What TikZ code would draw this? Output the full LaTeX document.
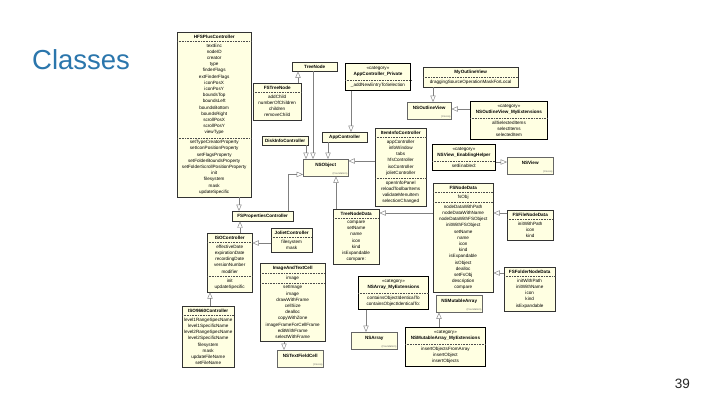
\documentclass[tikz,border=0pt]{standalone}
\usepackage{fontspec}
\setmainfont{Liberation Sans}
\usepackage{tikz}
\usetikzlibrary{arrows,positioning,shapes,calc}
\definecolor{classfill}{HTML}{FFFFE2}
\definecolor{heading}{HTML}{2B76AC}
\definecolor{wire}{HTML}{808080}
\tikzset{
    %Define standard arrow tip
    >={open triangle 45},
    %Define style for class boxes
    umlclass/.style={
	rectangle split,
	rectangle split parts=3,
	rectangle split draw splits=false,
	anchor=north west,
	draw=black!80, line width=0.4pt,
	fill=classfill,
	inner xsep=1pt,
	inner ysep=2.6pt,
	font=\fontsize{4.6}{6.2}\selectfont,
	align=center
    },
    umltwo/.style={umlclass, rectangle split parts=2},
    umlhead/.style={umlclass, rectangle split parts=1},
    %Define style for categories
    umlcat/.style={umltwo, draw=black, line width=0.9pt},
    %Define style for framework classes
    umllib/.style={
	rectangle,
	anchor=north west,
	draw=black!60, line width=0.4pt,
	fill=classfill,
	minimum height=17pt,
	text height=3.2pt, text depth=6pt,
	font=\fontsize{4.6}{6.2}\selectfont\bfseries
    },
    libtag/.style={anchor=south east, inner sep=0.8pt, text=black!60, font=\fontsize{2.6}{3}\selectfont},
    % Define separator and arrow styles
    sepline/.style={draw=black!70, line width=0.3pt, dash pattern=on 0.9pt off 0.7pt},
    gen/.style={->, draw=wire, line width=0.45pt}
}

\begin{document}
\begin{tikzpicture}[x=1pt,y=-1pt]
	\useasboundingbox (0,0) rectangle (720,405);
	%title and page number
	\node[anchor=base west, inner sep=0pt, text=heading, font=\fontsize{27.5}{30}\selectfont] (title) at (32,69) {Classes};
	\node[anchor=base east, inner sep=0pt, text=black!85, font=\fontsize{13.5}{15}\selectfont] (pageno) at (690,388) {39};
	%classes
	\node[umlclass, text width=72pt] (hfsplus) at (177,32) {\textbf{HFSPlusController}
		\nodepart{two} textEnc\\ nodeID\\ creator\\ type\\ finderFlags\\ extFinderFlags\\ iconPosX\\ iconPosY\\ boundsTop\\ boundsLeft\\ boundsBottom\\ boundsRight\\ scrollPosX\\ scrollPosY\\ viewType
		\nodepart{three} setTypeCreatorProperty\\ setIconPositionProperty\\ setFlagsProperty\\ setFolderBoundsProperty\\ setFolderScrollPositionProperty\\ init\\ filesystem\\ mask\\ updateSpecific};
	\node[umlhead, text width=43pt] (treenode) at (292,62) {\textbf{TreeNode}};
	\node[umlcat, text width=63pt] (appprivate) at (345,63) {«category»\\ \textbf{AppController\_Private}
		\nodepart{two} \_addNewEntryToSelection};
	\node[umltwo, text width=93pt] (myoutline) at (423,67) {\textbf{MyOutlineView}
		\nodepart{two} draggingSourceOperationMaskForLocal};
	\node[umltwo, text width=46pt] (fstreenode) at (253,83) {\textbf{FSTreeNode}
		\nodepart{two} addChild\\ numberOfChildren\\ children\\ removeChild};
	\node[umllib, minimum width=44pt] (nsoutline) at (407,102) {NSOutlineView};
	\node[umlcat, text width=75pt] (nsoutlineext) at (470,101) {«category»\\ \textbf{NSOutlineView\_MyExtensions}
		\nodepart{two} allSelectedItems\\ selectItems\\ selectedItem};
	\node[umlhead, text width=44pt] (diskinfo) at (262,136) {\textbf{DiskInfoController}};
	\node[umlhead, text width=43pt] (appctrl) at (322,132) {\textbf{AppController}};
	\node[umllib, minimum width=45pt] (nsobject) at (303,159) {NSObject};
	\node[umlclass, text width=49pt] (iteminfo) at (375,128) {\textbf{ItemInfoController}
		\nodepart{two} appController\\ infoWindow\\ tabs\\ hfsController\\ isoController\\ jolietController
		\nodepart{three} openInfoPanel\\ reloadToolbarItems\\ validateMenuItem\\ selectionChanged};
	\node[umlcat, text width=61pt] (nsviewext) at (432,144) {«category»\\ \textbf{NSView\_EnablingHelper}
		\nodepart{two} setEnabled:};
	\node[umllib, minimum width=46pt] (nsview) at (507,157) {NSView};
	\node[umlclass, text width=58pt] (fsnodedata) at (433,183) {\textbf{FSNodeData}
		\nodepart{two} fsObj
		\nodepart{three} nodeDataWithPath\\ nodeDataWithName\\ nodeDataWithFSObject\\ initWithFSObject\\ setName\\ name\\ icon\\ kind\\ isExpandable\\ isObject\\ dealloc\\ setFsObj\\ description\\ compare};
	\node[umlhead, text width=59pt] (fsprops) at (232,211) {\textbf{FSPropertiesController}};
	\node[umltwo, text width=44pt] (treenodedata) at (333,209) {\textbf{TreeNodeData}
		\nodepart{two} compare\\ setName\\ name\\ icon\\ kind\\ isExpandable\\ compare:};
	\node[umltwo, text width=44pt] (fsfile) at (507,210) {\textbf{FSFileNodeData}
		\nodepart{two} initWithPath\\ icon\\ kind};
	\node[umltwo, text width=39pt] (joliet) at (271,228) {\textbf{JolietController}
		\nodepart{two} filesystem\\ mask};
	\node[umlclass, text width=43pt] (isoctrl) at (207,233) {\textbf{ISOController}
		\nodepart{two} effectiveDate\\ expirationDate\\ recordingDate\\ versionNumber\\ modifier
		\nodepart{three} init\\ updateSpecific};
	\node[umlclass, text width=63pt] (imagecell) at (260,263) {\textbf{ImageAndTextCell}
		\nodepart{two} image
		\nodepart{three} setImage\\ image\\ drawWithFrame\\ cellSize\\ dealloc\\ copyWithZone\\ imageFrameForCellFrame\\ editWithFrame\\ selectWithFrame};
	\node[umltwo, text width=49pt] (fsfolder) at (504,267) {\textbf{FSFolderNodeData}
		\nodepart{two} initWithPath\\ initWithName\\ icon\\ kind\\ isExpandable};
	\node[umlcat, text width=68pt] (nsarrayext) at (358,276) {«category»\\ \textbf{NSArray\_MyExtensions}
		\nodepart{two} containsObjectIdenticalTo\\ containsObjectIdenticalTo:};
	\node[umllib, minimum width=46pt] (nsmutable) at (436,295) {NSMutableArray};
	\node[umltwo, text width=50pt] (iso9660) at (182,306) {\textbf{ISO9660Controller}
		\nodepart{two} level1RangeSpecName\\ level1SpecificName\\ level2RangeSpecName\\ level2SpecificName\\ filesystem\\ mask\\ updateFileName\\ setFileName};
	\node[umlcat, text width=78pt] (nsmutableext) at (405,327) {«category»\\ \textbf{NSMutableArray\_MyExtensions}
		\nodepart{two} insertObjectsFromArray\\ insertObject\\ insertObjects};
	\node[umllib, minimum width=46pt] (nsarray) at (351,332) {NSArray};
	\node[umllib, minimum width=46pt] (nstextcell) at (277,350) {NSTextFieldCell};
	%framework tags
	\node[libtag] (nsobjecttag) at (nsobject.south east) {(Foundation)};
	\node[libtag] (nsoutlinetag) at (nsoutline.south east) {(Cocoa)};
	\node[libtag] (nsviewtag) at (nsview.south east) {(Cocoa)};
	\node[libtag] (nsmutabletag) at (nsmutable.south east) {(Foundation)};
	\node[libtag] (nsarraytag) at (nsarray.south east) {(Foundation)};
	\node[libtag] (nstextcelltag) at (nstextcell.south east) {(Cocoa)};
	%separators
	\foreach \n in {hfsplus,appprivate,myoutline,fstreenode,nsoutlineext,iteminfo,nsviewext,fsnodedata,treenodedata,fsfile,joliet,isoctrl,imagecell,fsfolder,nsarrayext,iso9660,nsmutableext}
		\draw[sepline] (\n.text split west) -- (\n.text split east);
	\foreach \n in {hfsplus,iteminfo,fsnodedata,isoctrl,imagecell}
		\draw[sepline] (\n.two split west) -- (\n.two split east);
	%connectors
	\draw[gen] ($(fstreenode.north west)+(45,0)$) -- ($(treenode.south west)+(6,0)$);
	\draw[gen] ($(treenode.south west)+(21,0)$) -- ($(nsobject.north west)+(10,0)$);
	\draw[gen] ($(diskinfo.south west)+(44,0)$) -- ($(nsobject.north west)+(3,0)$);
	\draw[gen] ($(appctrl.south west)+(6,0)$) -- ($(nsobject.north west)+(25,0)$);
	\draw[gen] ($(iteminfo.north west)+(0,33)$) -- ($(nsobject.north east)+(0,2)$);
	\draw[gen] ($(fsprops.north west)+(56,0)$) |- ($(nsobject.south west)+(0,-2)$);
	\draw[gen] ($(treenodedata.north west)+(3,0)$) -- ($(nsobject.south west)+(33,0)$);
	\draw[gen] ($(appprivate.south west)+(6,0)$) -- ($(appctrl.north west)+(29,0)$);
	\draw[gen] ($(myoutline.south west)+(10,0)$) -- ($(nsoutline.north west)+(26,0)$);
	\draw[gen] ($(nsoutlineext.north west)+(0,8)$) -- ($(nsoutline.north east)+(0,7)$);
	\draw[gen] ($(nsviewext.north east)+(0,18)$) -- ($(nsview.north west)+(0,5)$);
	\draw[gen] ($(fsnodedata.north west)+(0,30)$) -- ($(treenodedata.north east)+(0,4)$);
	\draw[gen] ($(fsfile.north west)+(0,3)$) -- ($(fsnodedata.north east)+(0,30)$);
	\draw[gen] ($(fsfolder.north west)+(0,6)$) -- ($(fsnodedata.north east)+(0,90)$);
	\draw[gen] ($(hfsplus.south west)+(62,0)$) -- ($(fsprops.north west)+(7,0)$);
	\draw[gen] ($(isoctrl.north west)+(33,0)$) -- ($(fsprops.south west)+(8,0)$);
	\draw[gen] ($(joliet.north west)+(0,15)$) -- ($(isoctrl.north east)+(0,10)$);
	\draw[gen] ($(iso9660.north west)+(28,0)$) -- ($(isoctrl.south west)+(3,0)$);
	\draw[gen] ($(imagecell.south west)+(24,0)$) -- ($(nstextcell.north west)+(7,0)$);
	\draw[gen] ($(nsarrayext.south west)+(8,0)$) -- ($(nsarray.north west)+(15,0)$);
	\draw[gen] ($(nsmutableext.north west)+(34,0)$) -- ($(nsmutable.south west)+(3,0)$);
\end{tikzpicture}
\end{document}
